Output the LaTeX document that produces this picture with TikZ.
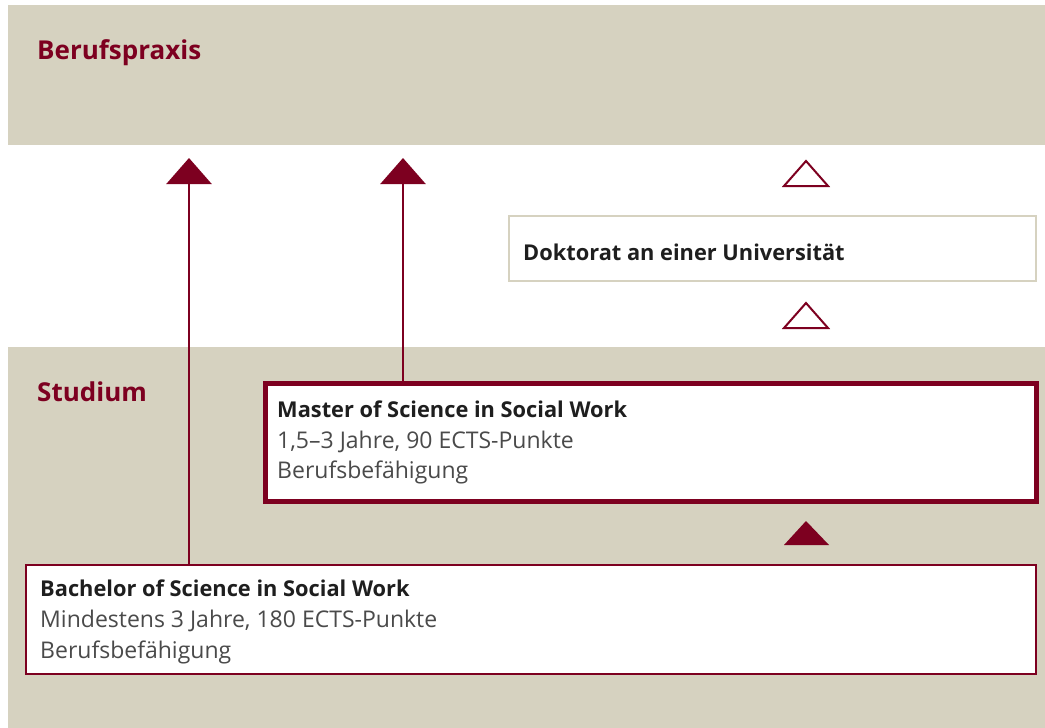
\documentclass[tikz,border=0pt]{standalone}
\usepackage{fontspec}
\setmainfont{Open Sans}
\usetikzlibrary{arrows.meta}
\definecolor{sand}{HTML}{D6D2C0}
\definecolor{wine}{HTML}{7D0020}
\definecolor{ink}{HTML}{1E1E1E}
\definecolor{soft}{HTML}{4A4A4A}
\tikzset{
  band/.style={fill=sand},
  bandlabel/.style={anchor=base west, inner sep=0pt, text=wine, font=\fontsize{26}{28}\selectfont\bfseries},
  masterbox/.style={draw=wine, line width=4.5pt, fill=white, anchor=north west, inner sep=0pt},
  bachbox/.style={draw=wine, line width=2.2pt, fill=white, anchor=north west, inner sep=0pt},
  docbox/.style={draw=sand, line width=2pt, fill=white, anchor=north west, inner sep=0pt},
  titletext/.style={anchor=base west, inner sep=0pt, text=ink, font=\fontsize{21.8}{24}\selectfont\bfseries},
  infotext/.style={anchor=base west, inner sep=0pt, text=soft, font=\fontsize{23}{25}\selectfont},
  uparrow/.style={draw=wine, line width=2.6pt, -{Triangle[width=45pt,length=26pt]}},
  opentri/.style={draw=wine, line width=2pt, fill=white, line join=miter},
  solidtri/.style={fill=wine}
}
\begin{document}
\begin{tikzpicture}[x=1pt,y=-1pt]
  \useasboundingbox (0,0) rectangle (1045,728);
  \fill[white] (0,0) rectangle (1045,728);

  % background bands
  \fill[band] (8,5) rectangle (1045,145);
  \fill[band] (8,347) rectangle (1045,728);
  \node[bandlabel] (praxis) at (37,59) {Berufspraxis};
  \node[bandlabel] (studium) at (37,401) {Studium};

  % boxes
  \node[docbox, minimum width=527pt, minimum height=65pt] (doktorat) at (508,215) {};
  \node[titletext] (doktext) at (523,260) {Doktorat an einer Universität};

  \node[masterbox, minimum width=771pt, minimum height=118pt] (master) at (263,381) {};
  \node[titletext] (mtitle) at (277,417) {Master of Science in Social Work};
  \node[infotext] (mline2) at (277,448) {1,5–3 Jahre, 90 ECTS-Punkte};
  \node[infotext] (mline3) at (277,478) {Berufsbefähigung};

  \node[bachbox, minimum width=1010pt, minimum height=109pt] (bachelor) at (25,564) {};
  \node[titletext] (btitle) at (40,596) {Bachelor of Science in Social Work};
  \node[infotext] (bline2) at (40,627) {Mindestens 3 Jahre, 180 ECTS-Punkte};
  \node[infotext] (bline3) at (40,658) {Berufsbefähigung};

  % connectors to Berufspraxis
  \coordinate (btip) at (189,158);
  \coordinate (mtip) at (403,158);
  \draw[uparrow] (bachelor.north -| btip) -- (btip);
  \draw[uparrow] (master.north -| mtip) -- (mtip);

  % pathway markers
  \draw[opentri] (784,186) -- (806,161) -- (828,186) -- cycle;
  \draw[opentri] (784,328) -- (806,303) -- (828,328) -- cycle;
  \fill[solidtri] (784,545) -- (806,521) -- (829,545) -- cycle;
\end{tikzpicture}
\end{document}
